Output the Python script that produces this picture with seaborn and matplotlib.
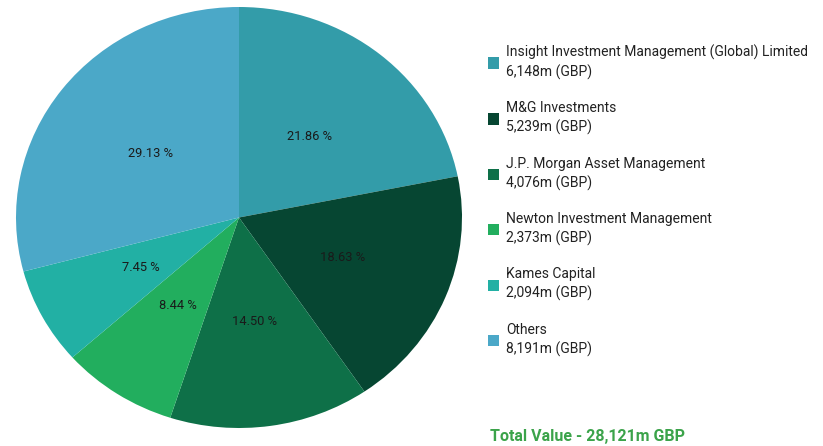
import matplotlib
matplotlib.use("Agg")
import matplotlib.pyplot as plt
import seaborn as sns
from matplotlib.patches import Patch

names = ["Insight Investment Management (Global) Limited", "M&G Investments",
         "J.P. Morgan Asset Management", "Newton Investment Management",
         "Kames Capital", "Others"]
values = [6148, 5239, 4076, 2373, 2094, 8191]
pct_labels = ["21.86 %", "18.63 %", "14.50 %", "8.44 %", "7.45 %", "29.13 %"]
value_labels = ["6,148m (GBP)", "5,239m (GBP)", "4,076m (GBP)", "2,373m (GBP)",
                "2,094m (GBP)", "8,191m (GBP)"]
colors = ["#339CA9", "#064632", "#0E7048", "#22AE5E", "#22B0A4", "#4BA8C8"]
total_label = "Total Value - 28,121m GBP"

sns.set_theme(style="white")
plt.rcParams['font.family'] = ['Roboto', 'DejaVu Sans']

W, H = 823, 446
fig = plt.figure(figsize=(W / 100, H / 100), dpi=100)
ax = fig.add_axes([16 / W, (H - 428) / H, 446 / W, 421 / H])
palette = sns.color_palette(colors)
_it = iter(pct_labels)
wedges, texts, autotexts = ax.pie(values, colors=palette, startangle=90, counterclock=False,
                                  autopct=lambda p: next(_it), pctdistance=0.5,
                                  wedgeprops=dict(linewidth=0),
                                  textprops=dict(fontsize=9.3, color="#1a1a1a"))
ax.set_aspect('auto')
ax.set_xlim(-1, 1)
ax.set_ylim(-1, 1)
ax.axis('off')

handles = [Patch(facecolor=c, edgecolor='none') for c in palette]
labels = [f"{n}\n{v}" for n, v in zip(names, value_labels)]
leg = fig.legend(handles, labels, loc='upper left', bbox_to_anchor=(482 / W, 1 - 39 / H),
                 frameon=False, fontsize=10, handlelength=0.85, handleheight=0.85,
                 handletextpad=0.5, labelspacing=1.53, borderaxespad=0)
for t in leg.get_texts():
    t.set_color("#222222")
    t.set_linespacing(1.4)

fig.text(490 / W, 1 - 436 / H, total_label, fontsize=11.5, fontweight='bold',
         color="#3BA34A", va='center', ha='left')

fig.savefig("out.png", dpi=100)
